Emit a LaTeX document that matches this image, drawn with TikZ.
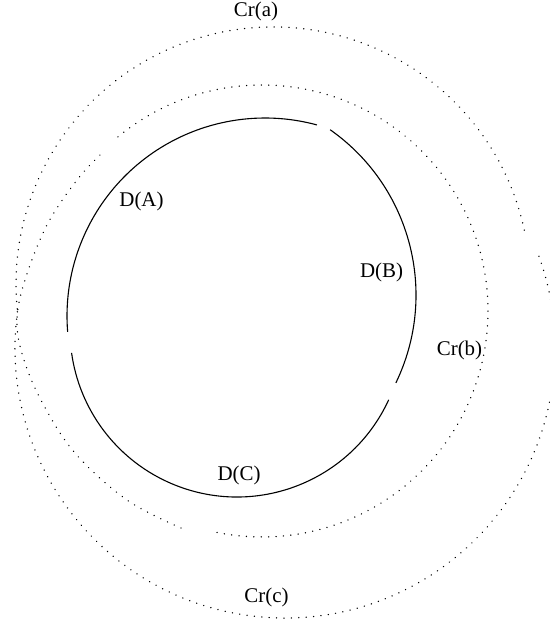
\documentclass[tikz,border=0pt]{standalone}
\usepackage{fontspec}
\setmainfont{Liberation Serif}
\begin{document}
\begin{tikzpicture}[x=1bp,y=1bp,
  solidarc/.style={line width=1.1bp},
  dotarc/.style={line width=1.5bp, line cap=round, dash pattern=on 0.01bp off 7.4bp},
  lbl/.style={inner sep=0pt, font=\fontsize{21}{24}\selectfont}]
\useasboundingbox (0,0) rectangle (550,625);
\clip (0,0) rectangle (550,625);
% centres
\coordinate (cA) at (265,309);
\coordinate (cB) at (214,330);
\coordinate (cC) at (237,295);
\coordinate (ca) at (273,341);
\coordinate (cb) at (262,314);
\coordinate (cc) at (285,277);
% solid arcs
\draw[solidarc] (cA) ++(184.6:198) arc[start angle=184.6, end angle=74.8, radius=198];
\draw[solidarc] (cB) ++(54.9:202) arc[start angle=54.9, end angle=-25.8, radius=202];
\draw[solidarc] (cC) ++(-24.7:167) arc[start angle=-24.7, end angle=-172.1, radius=167];
% dotted arcs
\draw[dotarc] (ca) ++(12.1:257) arc[start angle=12.1, end angle=186.3, radius=257];
\draw[dotarc] (cb) ++(129.6:226) arc[start angle=129.6, end angle=-101.8, radius=226];
\draw[dotarc] (cc) ++(172.3:270) arc[start angle=172.3, end angle=380.9, radius=270];
\draw[dotarc] plot[smooth, tension=0.6] coordinates {(181,97) (127,125) (75,172) (42,223) (23,268) (17,305) (25,345) (47,400) (77,445) (102,472)};
% labels
\node[lbl] (la) at (256,613.5) {Cr(a)};
\node[lbl] (lb) at (459.5,274.5) {Cr(b)};
\node[lbl] (lc) at (266.5,27.5) {Cr(c)};
\node[lbl] (lA) at (141.5,423.5) {D(A)};
\node[lbl] (lB) at (381.5,352.5) {D(B)};
\node[lbl] (lC) at (239,150) {D(C)};
\end{tikzpicture}
\end{document}
